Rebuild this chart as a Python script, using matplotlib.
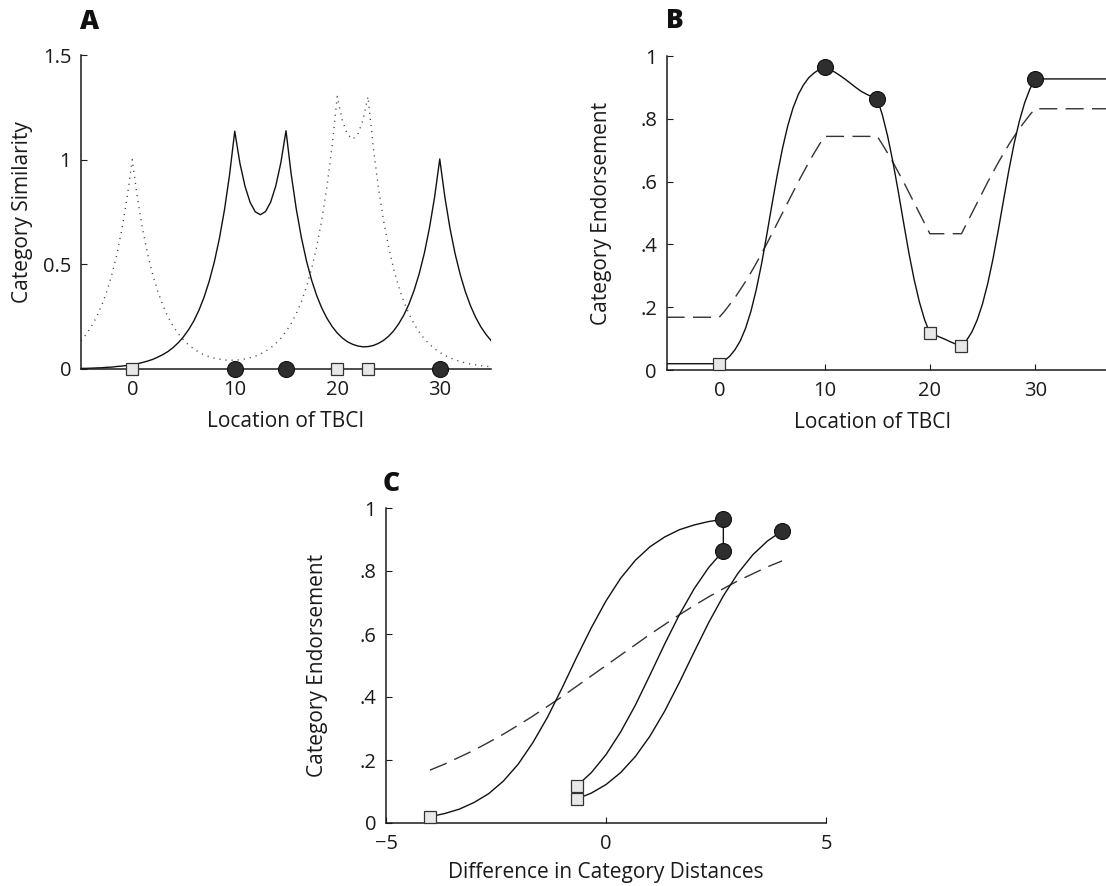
import numpy as np
import matplotlib
matplotlib.use('Agg')
import matplotlib.pyplot as plt

plt.rcParams['font.family'] = ['Open Sans', 'DejaVu Sans']
plt.rcParams['lines.scale_dashes'] = False
plt.rcParams['axes.unicode_minus'] = True

# exemplar locations of the two categories
cat_a_locs = [10, 15, 30]   # filled circles
cat_b_locs = [0, 20, 23]    # light squares

# panel A: summed similarity to each category along the TBCI axis
loc_a = np.arange(-5, 35.5, 0.5)
sim_cat_a = [
    .003, .003, .004, .005, .006, .008, .009, .012, .014, .017,
    .021, .025, .031, .038, .046, .057, .069, .084, .103, .126,
    .154, .188, .229, .280, .342, .418, .510, .623, .761, .930,
    1.136, .984, .873, .796, .751, .737, .752, .797, .874, .986,
    1.138, .933, .765, .628, .516, .424, .350, .290, .242, .203,
    .172, .148, .130, .118, .110, .106, .107, .112, .122, .136,
    .156, .182, .216, .258, .311, .376, .456, .554, .675, .822,
    1.003, .821, .672, .550, .451, .369, .302, .247, .202, .166, .136]
sim_cat_b = [
    .135, .165, .202, .247, .301, .368, .449, .549, .670, .819,
    1.000, .819, .671, .550, .450, .369, .303, .248, .204, .168,
    .139, .115, .096, .080, .068, .059, .052, .047, .043, .042,
    .042, .044, .048, .054, .061, .072, .085, .101, .122, .147,
    .179, .217, .264, .322, .393, .480, .585, .715, .873, 1.066,
    1.302, 1.187, 1.120, 1.098, 1.120, 1.187, 1.301, 1.065, .872, .714,
    .585, .479, .392, .321, .263, .215, .176, .144, .118, .097,
    .079, .065, .053, .044, .036, .029, .024, .020, .016, .013, .011]

# panel B / C: endorsement per TBCI location, flat outside the exemplar range
loc_b = np.concatenate([[-5], np.arange(0, 30.5, 0.5), [40]])
endorse_exemplar = np.array([
    .020,
    .020, .030, .044, .065, .093, .133, .186, .254, .335, .428,
    .526, .620, .705, .777, .834, .877, .908, .931, .946, .957,
    .964, .957, .948, .937, .925, .912, .899, .887, .878, .870,
    .864, .811, .743, .661, .568, .470, .374, .289, .217, .160,
    .117, .111, .104, .097, .089, .082, .076, .095, .122, .160,
    .211, .276, .355, .446, .542, .636, .721, .793, .851, .895,
    .927,
    .927])
endorse_prototype = np.array([
    .168,
    .168, .187, .209, .231, .256, .282, .310, .339, .370, .401,
    .434, .467, .500, .533, .566, .599, .630, .661, .690, .718,
    .744, .744, .744, .744, .744, .744, .744, .744, .744, .744,
    .744, .718, .690, .661, .630, .599, .566, .533, .500, .467,
    .434, .434, .434, .434, .434, .434, .434, .467, .500, .533,
    .566, .599, .630, .661, .690, .718, .744, .769, .791, .813,
    .832,
    .832])
dist_diff = np.array([
    -4.0,
    -4.0, -3.667, -3.333, -3.0, -2.667, -2.333, -2.0, -1.667, -1.333, -1.0,
    -0.667, -0.333, 0.0, 0.333, 0.667, 1.0, 1.333, 1.667, 2.0, 2.333,
    2.667, 2.667, 2.667, 2.667, 2.667, 2.667, 2.667, 2.667, 2.667, 2.667,
    2.667, 2.333, 2.0, 1.667, 1.333, 1.0, 0.667, 0.333, 0.0, -0.333,
    -0.667, -0.667, -0.667, -0.667, -0.667, -0.667, -0.667, -0.333, 0.0, 0.333,
    0.667, 1.0, 1.333, 1.667, 2.0, 2.333, 2.667, 3.0, 3.333, 3.667,
    4.0,
    4.0])

endorse_ticks = [0, .2, .4, .6, .8, 1]
endorse_labels = ['0', '.2', '.4', '.6', '.8', '1']

W, H = 1106, 886
fig = plt.figure(figsize=(W / 100, H / 100), dpi=100)


def px_axes(left, top, right, bottom):
    # axes rectangle given in pixel corners
    return fig.add_axes([left / W, 1 - bottom / H, (right - left) / W, (bottom - top) / H])


def style(ax):
    for s in ['top', 'right']:
        ax.spines[s].set_visible(False)
    for s in ['left', 'bottom']:
        ax.spines[s].set_linewidth(1.1)
        ax.spines[s].set_color('#1a1a1a')
    ax.tick_params(direction='in', length=4, width=0.8, color='#1a1a1a',
                   labelsize=14.5, labelcolor='#1a1a1a')
    ax.tick_params(axis='x', pad=8)
    ax.tick_params(axis='y', pad=7)


circ = dict(marker='o', ms=11.5, mfc='#2e2e2e', mec='#111111', mew=0.8, ls='none', zorder=5, clip_on=False)
sq = dict(marker='s', ms=9, mfc='#e8e8e8', mec='#333333', mew=0.9, ls='none', zorder=5, clip_on=False)
dashed = (0, (13, 6))
lab_kw = dict(fontsize=15, color='#1a1a1a')

# ---- A
axA = px_axes(81, 55, 491, 369)
style(axA)
axA.plot(loc_a, sim_cat_b, color='#444444', lw=1.0, ls=(0, (0.8, 3.6)))
axA.plot(loc_a, sim_cat_a, color='#111111', lw=1.0)
axA.plot(cat_a_locs, np.zeros(len(cat_a_locs)), **circ)
axA.plot(cat_b_locs, np.zeros(len(cat_b_locs)), **sq)
axA.set_xlim(-5, 35)
axA.set_ylim(0, 1.5)
axA.set_xticks([0, 10, 20, 30])
axA.set_yticks([0, 0.5, 1, 1.5])
axA.set_yticklabels(['0', '0.5', '1', '1.5'])
axA.set_xlabel('Location of TBCI', **lab_kw)
axA.set_ylabel('Category Similarity', **lab_kw)
axA.xaxis.set_label_coords(0.5, -0.134)
axA.yaxis.set_label_coords(-0.117, 0.5)

# ---- B
ia = [int(np.where(loc_b == t)[0][0]) for t in cat_a_locs]
ib = [int(np.where(loc_b == t)[0][0]) for t in cat_b_locs]

axB = px_axes(666.6, 56, 1140.5, 370)
style(axB)
axB.plot(loc_b, endorse_prototype, color='#333333', lw=1.0, ls=dashed)
axB.plot(loc_b, endorse_exemplar, color='#111111', lw=1.0)
axB.plot(loc_b[ia], endorse_exemplar[ia], **circ)
axB.plot(loc_b[ib], endorse_exemplar[ib], **sq)
axB.set_xlim(-5, 40)
axB.set_ylim(0, 1)
axB.set_xticks([0, 10, 20, 30])
axB.set_yticks(endorse_ticks)
axB.set_yticklabels(endorse_labels)
axB.set_xlabel('Location of TBCI', **lab_kw)
axB.set_ylabel('Category Endorsement', **lab_kw)
axB.xaxis.set_label_coords(0.4345, -0.133)
axB.yaxis.set_label_coords(-0.115, 0.5)

# ---- C
inside = (loc_b >= 0) & (loc_b <= 30)
d_u, i_u = np.unique(dist_diff[inside], return_index=True)

axC = px_axes(386, 508, 826, 823)
style(axC)
axC.plot(d_u, endorse_prototype[inside][i_u], color='#333333', lw=1.0, ls=dashed)
axC.plot(dist_diff[inside], endorse_exemplar[inside], color='#111111', lw=1.0)
axC.plot(dist_diff[ia], endorse_exemplar[ia], **circ)
axC.plot(dist_diff[ib], endorse_exemplar[ib], **sq)
axC.set_xlim(-5, 5)
axC.set_ylim(0, 1)
axC.set_xticks([-5, 0, 5])
axC.set_yticks(endorse_ticks)
axC.set_yticklabels(endorse_labels)
axC.set_xlabel('Difference in Category Distances', **lab_kw)
axC.set_ylabel('Category Endorsement', **lab_kw)
axC.xaxis.set_label_coords(0.5, -0.124)
axC.yaxis.set_label_coords(-0.132, 0.5)

# panel letters
for lab, x, y in [('A', 80, 29), ('B', 666, 28), ('C', 383, 491)]:
    fig.text(x / W, 1 - y / H, lab, fontsize=19, fontweight='heavy', color='#111111', va='baseline')

fig.savefig('out.png', dpi=100)
